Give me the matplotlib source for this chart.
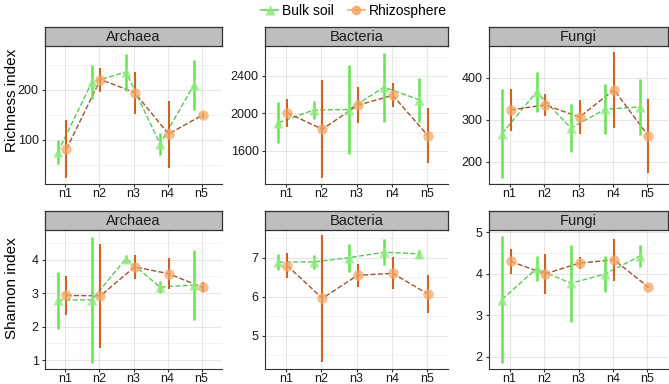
import numpy as np
import matplotlib
matplotlib.use("Agg")
from matplotlib import pyplot as plt
from matplotlib.lines import Line2D
from matplotlib.ticker import MultipleLocator, AutoMinorLocator

plt.rcParams['font.family'] = ['Liberation Sans', 'DejaVu Sans']

groups = ['n1', 'n2', 'n3', 'n4', 'n5']
taxa = ['Archaea', 'Bacteria', 'Fungi']

# richness index: mean and sd per taxon
rich_bulk = {
    'Archaea': [76, 216, 236, 92, 211],
    'Bacteria': [1900, 2035, 2040, 2280, 2145],
    'Fungi': [267, 366, 280, 325, 330],
}
rich_bulk_sd = {
    'Archaea': [24, 34, 37, 22, 50],
    'Bacteria': [222, 100, 475, 370, 233],
    'Fungi': [106, 48, 57, 60, 66],
}
rich_rhizo = {
    'Archaea': [82, 221, 195, 112, 150],
    'Bacteria': [2005, 1830, 2086, 2193, 1760],
    'Fungi': [323, 335, 306, 371, 261],
}
rich_rhizo_sd = {
    'Archaea': [58, 24, 42, 67, 5],
    'Bacteria': [150, 527, 193, 129, 295],
    'Fungi': [50, 27, 40, 90, 88],
}

# shannon index
shan_bulk = {
    'Archaea': [2.79, 2.80, 4.03, 3.18, 3.24],
    'Bacteria': [6.89, 6.89, 7.00, 7.14, 7.10],
    'Fungi': [3.38, 4.13, 3.77, 4.00, 4.43],
}
shan_bulk_sd = {
    'Archaea': [0.85, 1.88, 0.12, 0.18, 1.03],
    'Bacteria': [0.20, 0.18, 0.36, 0.33, 0.10],
    'Fungi': [1.53, 0.31, 0.93, 0.43, 0.26],
}
shan_rhizo = {
    'Archaea': [2.93, 2.92, 3.78, 3.58, 3.17],
    'Bacteria': [6.80, 5.96, 6.55, 6.60, 6.07],
    'Fungi': [4.30, 4.00, 4.26, 4.34, 3.68],
}
shan_rhizo_sd = {
    'Archaea': [0.58, 1.55, 0.36, 0.46, 0.15],
    'Bacteria': [0.31, 1.63, 0.29, 0.41, 0.49],
    'Fungi': [0.30, 0.49, 0.15, 0.51, 0.03],
}

# axis ranges and ticks
ylims = {
    ('rich', 'Archaea'): (12, 288), ('rich', 'Bacteria'): (1243, 2721), ('rich', 'Fungi'): (147, 475),
    ('shan', 'Archaea'): (0.74, 4.88), ('shan', 'Bacteria'): (4.15, 7.71), ('shan', 'Fungi'): (1.70, 5.06),
}
ystep = {
    ('rich', 'Archaea'): 100, ('rich', 'Bacteria'): 400, ('rich', 'Fungi'): 100,
    ('shan', 'Archaea'): 1, ('shan', 'Bacteria'): 1, ('shan', 'Fungi'): 1,
}

green_pt = '#8FEA7F'
green_bar = '#62E64C'
green_line = '#5CC85C'
orange_pt = '#F2A765'
orange_bar = '#D2631F'
orange_line = '#A0522D'

W, H = 669, 384
fig = plt.figure(figsize=(W / 100, H / 100), dpi=100)

cols = [(45, 222), (265, 448), (489, 668)]
rows = [(27, 46, 184, 'rich'), (211, 230, 369, 'shan')]

x = np.arange(len(groups))
for (st, top, bot, kind) in rows:
    for j, t in enumerate(taxa):
        l, r = cols[j]
        ax = fig.add_axes([l / W, 1 - bot / H, (r - l) / W, (bot - top) / H])
        sax = fig.add_axes([l / W, 1 - top / H, (r - l) / W, (top - st) / H])
        sax.set_facecolor('#BEBEBE')
        sax.set_xticks([]); sax.set_yticks([])
        for s in sax.spines.values():
            s.set_color('#333333'); s.set_linewidth(0.9)
        sax.text(0.5, 0.45, t, ha='center', va='center', fontsize=10.5, color='#1A1A1A',
                 transform=sax.transAxes)

        if kind == 'rich':
            b, bs, o, os_ = rich_bulk[t], rich_bulk_sd[t], rich_rhizo[t], rich_rhizo_sd[t]
        else:
            b, bs, o, os_ = shan_bulk[t], shan_bulk_sd[t], shan_rhizo[t], shan_rhizo_sd[t]

        xb = x - 0.22
        xo = x + 0.03
        ax.plot(xb, b, ls='--', color=green_line, lw=1.0, zorder=3)
        ax.plot(xo, o, ls='--', color=orange_line, lw=1.0, zorder=3)
        ax.errorbar(xb, b, yerr=bs, fmt='none', ecolor=green_bar, elinewidth=1.8, capsize=0, zorder=4)
        ax.errorbar(xo, o, yerr=os_, fmt='none', ecolor=orange_bar, elinewidth=1.5, capsize=0, zorder=4)
        ax.plot(xb, b, ls='none', marker='^', ms=7, color=green_pt, alpha=0.8, mec='none', zorder=5)
        ax.plot(xo, o, ls='none', marker='o', ms=7.5, color=orange_pt, alpha=0.75, mec='none', zorder=5)

        ax.set_xlim(-0.6, 4.6)
        ax.set_ylim(*ylims[(kind, t)])
        ax.yaxis.set_major_locator(MultipleLocator(ystep[(kind, t)]))
        ax.yaxis.set_minor_locator(AutoMinorLocator(2))
        ax.set_xticks(x)
        ax.set_xticklabels(groups)
        ax.grid(True, which='major', color='#E6E6E6', lw=0.8)
        ax.grid(True, which='minor', axis='y', color='#F0F0F0', lw=0.6)
        ax.set_axisbelow(True)
        ax.tick_params(which='minor', length=0)
        ax.tick_params(which='major', length=2.5, width=0.8, color='#333333',
                       labelsize=9, labelcolor='#1A1A1A', pad=2)
        ax.tick_params(axis='x', length=2, pad=1)
        ax.spines['top'].set_visible(False)
        ax.spines['right'].set_visible(False)
        ax.spines['left'].set_color('#333333')
        ax.spines['bottom'].set_color('#333333')

fig.text(12 / W, 1 - 100 / H, 'Richness index', rotation=90, ha='center', va='center', fontsize=11)
fig.text(12 / W, 1 - 288 / H, 'Shannon index', rotation=90, ha='center', va='center', fontsize=11)

handles = [
    Line2D([], [], color=green_line, lw=1.2, marker='^', ms=7, mfc=green_pt, mec='none', alpha=0.9),
    Line2D([], [], color=orange_pt, lw=1.2, marker='o', ms=7, mfc=orange_pt, mec='none', alpha=0.9),
]
fig.legend(handles, ['Bulk soil', 'Rhizosphere'], loc='center', bbox_to_anchor=(354 / W, 1 - 11 / H),
           ncol=2, frameon=False, fontsize=10, handlelength=1.2, handletextpad=0.3, columnspacing=1.0)

fig.savefig('out.png', dpi=100)
